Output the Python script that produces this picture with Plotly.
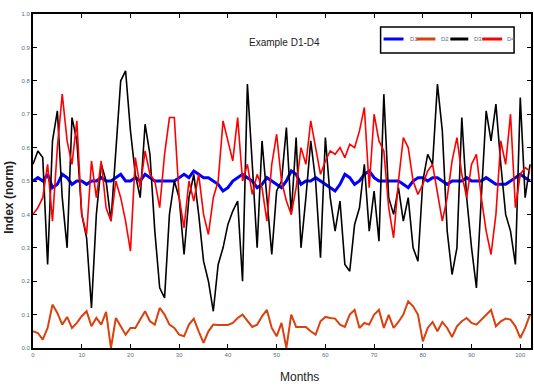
import plotly.graph_objects as go

months = list(range(0, 103))

d1 = [0.50, 0.51, 0.50, 0.52, 0.48, 0.49, 0.52, 0.51, 0.49, 0.50,
      0.50, 0.49, 0.50, 0.50, 0.51, 0.50, 0.50, 0.51, 0.52, 0.50,
      0.50, 0.51, 0.50, 0.52, 0.51, 0.50, 0.50, 0.50, 0.50, 0.50,
      0.51, 0.52, 0.51, 0.53, 0.52, 0.51, 0.51, 0.50, 0.49, 0.47,
      0.48, 0.50, 0.51, 0.52, 0.51, 0.50, 0.48, 0.49, 0.51, 0.50,
      0.49, 0.48, 0.50, 0.53, 0.52, 0.49, 0.50, 0.50, 0.51, 0.50,
      0.49, 0.48, 0.47, 0.49, 0.52, 0.51, 0.49, 0.50, 0.52, 0.53,
      0.51, 0.50, 0.50, 0.50, 0.50, 0.50, 0.49, 0.48, 0.50, 0.51,
      0.51, 0.50, 0.51, 0.51, 0.50, 0.49, 0.50, 0.50, 0.50, 0.51,
      0.50, 0.50, 0.50, 0.51, 0.50, 0.49, 0.49, 0.49, 0.50, 0.51,
      0.52, 0.51, 0.50]

d2 = [0.050, 0.045, 0.025, 0.060, 0.130, 0.105, 0.070, 0.093, 0.060, 0.075,
      0.095, 0.110, 0.065, 0.090, 0.070, 0.108, 0.000, 0.090, 0.065, 0.040,
      0.060, 0.060, 0.085, 0.110, 0.080, 0.070, 0.120, 0.100, 0.070, 0.060,
      0.040, 0.035, 0.070, 0.088, 0.050, 0.015, 0.050, 0.070, 0.069, 0.069,
      0.069, 0.075, 0.090, 0.100, 0.080, 0.063, 0.070, 0.095, 0.114, 0.060,
      0.035, 0.075, 0.000, 0.100, 0.063, 0.063, 0.063, 0.050, 0.040, 0.080,
      0.093, 0.090, 0.088, 0.070, 0.063, 0.100, 0.114, 0.060, 0.075, 0.070,
      0.100, 0.114, 0.060, 0.099, 0.060, 0.078, 0.100, 0.140, 0.125, 0.100,
      0.020, 0.060, 0.078, 0.050, 0.078, 0.060, 0.033, 0.065, 0.080, 0.090,
      0.075, 0.070, 0.085, 0.100, 0.114, 0.065, 0.080, 0.088, 0.085, 0.065,
      0.030, 0.060, 0.100]

d3 = [0.55, 0.59, 0.57, 0.25, 0.62, 0.71, 0.45, 0.30, 0.69, 0.62,
      0.40, 0.33, 0.12, 0.40, 0.55, 0.50, 0.38, 0.60, 0.80, 0.83,
      0.65, 0.52, 0.45, 0.67, 0.58, 0.35, 0.18, 0.15, 0.40, 0.50,
      0.45, 0.28, 0.45, 0.52, 0.40, 0.26, 0.20, 0.11, 0.25, 0.30,
      0.37, 0.41, 0.44, 0.20, 0.79, 0.55, 0.30, 0.62, 0.45, 0.28,
      0.47, 0.50, 0.66, 0.40, 0.63, 0.30, 0.45, 0.62, 0.50, 0.27,
      0.63, 0.45, 0.35, 0.44, 0.25, 0.23, 0.37, 0.42, 0.55, 0.35,
      0.47, 0.32, 0.76, 0.45, 0.40, 0.48, 0.38, 0.45, 0.30, 0.26,
      0.50, 0.58, 0.55, 0.79, 0.65, 0.35, 0.22, 0.30, 0.69, 0.45,
      0.30, 0.18, 0.45, 0.71, 0.62, 0.73, 0.55, 0.40, 0.35, 0.25,
      0.75, 0.45, 0.55]

d4 = [0.40, 0.42, 0.45, 0.55, 0.38, 0.60, 0.76, 0.62, 0.55, 0.68,
      0.40, 0.34, 0.56, 0.45, 0.56, 0.42, 0.38, 0.50, 0.45, 0.38,
      0.29, 0.57, 0.48, 0.59, 0.52, 0.50, 0.42, 0.58, 0.69, 0.69,
      0.45, 0.36, 0.50, 0.44, 0.52, 0.40, 0.34, 0.45, 0.50, 0.68,
      0.62, 0.56, 0.69, 0.50, 0.55, 0.46, 0.52, 0.48, 0.38, 0.55,
      0.64, 0.50, 0.44, 0.40, 0.48, 0.60, 0.55, 0.68, 0.60, 0.52,
      0.56, 0.59, 0.58, 0.60, 0.57, 0.61, 0.60, 0.65, 0.72, 0.48,
      0.70, 0.62, 0.59, 0.42, 0.33, 0.50, 0.63, 0.60, 0.50, 0.46,
      0.49, 0.53, 0.55, 0.47, 0.38, 0.45, 0.56, 0.63, 0.52, 0.45,
      0.55, 0.58, 0.45, 0.35, 0.28, 0.40, 0.62, 0.55, 0.70, 0.42,
      0.52, 0.54, 0.53]

series_names = ["D1", "D2", "D3", "D4"]
series_colors = ["#0000FF", "#D9420F", "#000000", "#FF0000"]
series_widths = [3, 2, 1.6, 1.6]
series_values = [d1, d2, d3, d4]

x_tickvals = [0, 10, 20, 30, 40, 50, 60, 70, 80, 90, 100]
x_ticktext = ["0", "10", "20", "30", "40", "50", "60", "70", "80", "90", "100"]
y_tickvals = [0, 0.1, 0.2, 0.3, 0.4, 0.5, 0.6, 0.7, 0.8, 0.9, 1.0]
y_ticktext = ["0.0", "0.1", "0.2", "0.3", "0.4", "0.5", "0.6", "0.7", "0.8", "0.9", "1.0"]

fig = go.Figure()
for name, vals, col, w in zip(series_names, series_values, series_colors, series_widths):
    fig.add_trace(go.Scatter(x=months, y=vals, mode="lines", name=name,
                             line=dict(color=col, width=w), showlegend=False))

narrow = "Liberation Sans Narrow, Liberation Sans, Arial"
tickfont = dict(family=narrow, size=6, color="#5a6a8a")

fig.update_layout(
    width=534, height=387,
    margin=dict(l=33, r=1, t=14, b=39),
    paper_bgcolor="white", plot_bgcolor="white",
    xaxis=dict(range=[0, 102.2], tickvals=x_tickvals, ticktext=x_ticktext,
               ticks="inside", ticklen=4, tickwidth=1.3, tickcolor="black",
               showline=True, linecolor="black", linewidth=2, mirror="ticks",
               showgrid=False, zeroline=False, tickfont=tickfont),
    yaxis=dict(range=[0, 1], tickvals=y_tickvals, ticktext=y_ticktext,
               ticks="inside", ticklen=4, tickwidth=1.3, tickcolor="black",
               showline=True, linecolor="black", linewidth=2, mirror="ticks",
               showgrid=False, zeroline=False, tickfont=tickfont),
)

annotations = [
    dict(text="Months", x=0.535, y=-0.087, xref="paper", yref="paper",
         xanchor="center", yanchor="middle", showarrow=False,
         font=dict(family=narrow, size=12, color="#222")),
    dict(text="<b>Index (norm)</b>", x=-0.048, y=0.45, xref="paper", yref="paper",
         xanchor="center", yanchor="middle", textangle=-90, showarrow=False,
         font=dict(family=narrow, size=12, color="#222")),
    dict(text="Example D1-D4", x=0.505, y=0.915, xref="paper", yref="paper",
         xanchor="center", yanchor="middle", showarrow=False,
         font=dict(family=narrow, size=10, color="#222")),
]

# legend box drawn manually (compact MATLAB-style)
shapes = [dict(type="rect", xref="paper", yref="paper", x0=0.698, x1=0.966,
               y0=0.883, y1=0.961, line=dict(color="black", width=1.5),
               fillcolor="white", layer="above")]
leg_x = [(385, 405, 410), (418, 437, 441), (452, 470, 474), (484, 504, 507)]
ly = (348 - 39) / 334
for (a, b, t), name, col in zip(leg_x, series_names, series_colors):
    shapes.append(dict(type="line", xref="paper", yref="paper",
                       x0=(a - 33) / 500, x1=(b - 33) / 500, y0=ly, y1=ly,
                       line=dict(color=col, width=3), layer="above"))
    annotations.append(dict(text=name, x=(t - 33) / 500, y=ly, xref="paper", yref="paper",
                            xanchor="left", yanchor="middle", showarrow=False,
                            font=dict(family=narrow, size=6, color="#5a6a8a")))

fig.update_layout(annotations=annotations, shapes=shapes)
fig.write_html("out.html")
